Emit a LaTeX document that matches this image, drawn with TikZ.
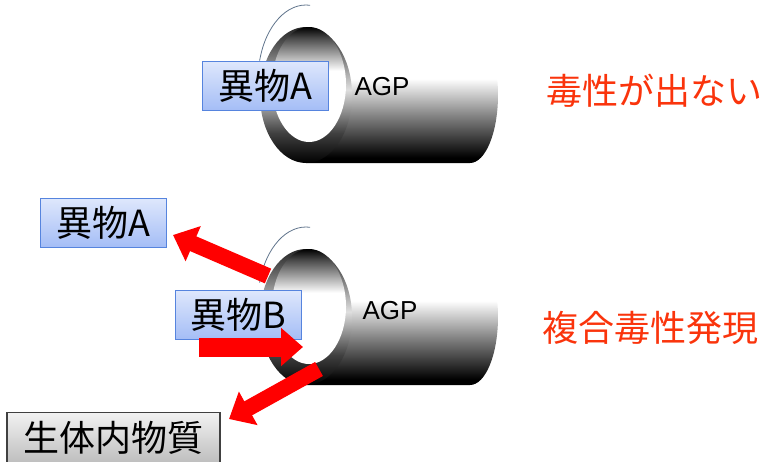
\documentclass[tikz,border=0pt]{standalone}
\usepackage{fontspec}
\setmainfont{Liberation Sans}
\newfontfamily\jp{Noto Sans CJK JP}
\usetikzlibrary{arrows.meta, positioning}

\definecolor{xenoTop}{RGB}{222,231,252}
\definecolor{xenoBottom}{RGB}{164,189,246}
\definecolor{xenoLine}{RGB}{86,132,222}
\definecolor{endoTop}{RGB}{242,242,242}
\definecolor{endoBottom}{RGB}{190,190,190}
\definecolor{toxRed}{RGB}{250,52,12}
\definecolor{rimLine}{RGB}{96,116,140}

% shadings of the tube (bottom to top, path mapped on 25bp..75bp)
\pgfdeclareverticalshading{tubebody}{100bp}{color(0bp)=(black); color(27bp)=(black); color(42bp)=(gray); color(56bp)=(white); color(100bp)=(white)}
\pgfdeclareverticalshading{tuberim}{100bp}{color(0bp)=(black); color(25bp)=(black); color(36bp)=(black!75); color(52bp)=(gray!25); color(66bp)=(gray!80!black); color(75bp)=(black!85); color(100bp)=(black!85)}
\pgfdeclareverticalshading{tubehole}{100bp}{color(0bp)=(white); color(56bp)=(white); color(70bp)=(black!70); color(75bp)=(black); color(100bp)=(black)}

\begin{document}
\begin{tikzpicture}[x=1pt, y=1pt]
	\tikzstyle{xeno} = [draw=xenoLine, line width=1.2pt, top color=xenoTop, bottom color=xenoBottom, minimum width=126pt, minimum height=49pt, inner sep=0pt, font=\jp\fontsize{36}{40}\selectfont]
	\tikzstyle{endo} = [draw=black!75, line width=1.2pt, top color=endoTop, bottom color=endoBottom, minimum width=213pt, minimum height=50pt, inner sep=0pt, font=\jp\fontsize{36}{40}\selectfont]
	\tikzstyle{agp} = [inner sep=0pt, font=\fontsize{26}{30}\selectfont]
	\tikzstyle{verdict} = [inner sep=0pt, text=toxRed, font=\jp\fontsize{36}{40}\selectfont]
	\tikzstyle{push} = [draw=red, line width=16pt, -{Triangle[width=37pt, length=22pt]}]

	\useasboundingbox (0,0) rectangle (763,-461);

	% the two AGP tubes
	\foreach \dy in {0,222} {
		\begin{scope}[yshift=-\dy pt]
			\shade[shading=tubebody] (306,-27) -- (470,-27) arc[start angle=90, end angle=-90, x radius=28, y radius=68] -- (306,-163) -- cycle;
			\shade[shading=tuberim] (306,-95) ellipse [x radius=46, y radius=68];
			\shade[shading=tubehole] (309,-84.5) ellipse [x radius=37, y radius=57.5];
			\draw[rimLine, line width=0.8pt] (306,-80) ++(165:48 and 75) arc[start angle=165, end angle=85, x radius=48, y radius=75];
		\end{scope}
	}

	\node[xeno] (xenoA) at (265.5,-86) {異物A};
	\node[agp] (agpTop) at (382,-87) {AGP};
	\node[verdict] (safe) at (654,-91) {毒性が出ない};

	\node[xeno] (xenoA2) at (103.5,-223) {異物A};
	\node[xeno] (xenoB) at (238.5,-315) {異物B};
	\node[agp] (agpBot) at (390,-311) {AGP};
	\node[verdict] (combo) at (650,-328) {複合毒性発現};
	\node[endo] (endo) at (113.5,-437.5) {生体内物質};

	% displacement arrows
	\coordinate (relA) at (268,-276);
	\coordinate (tipA) at (173,-235);
	\coordinate (feedB) at (199,-347);
	\coordinate (tipB) at (303,-347);
	\coordinate (relE) at (319,-369);
	\coordinate (tipE) at (229,-419);
	\path [push] (relA) -- (tipA);
	\path [push, line width=19pt] (feedB) -- (tipB);
	\path [push] (relE) -- (tipE);
\end{tikzpicture}
\end{document}
